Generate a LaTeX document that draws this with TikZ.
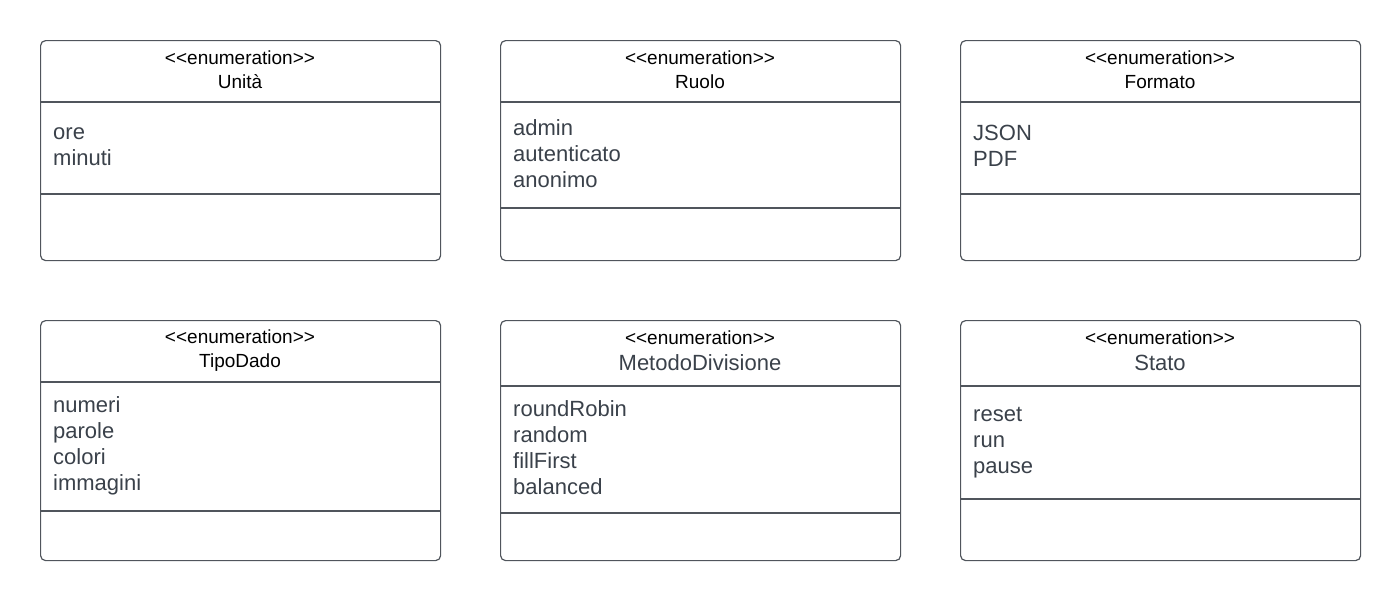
\documentclass[tikz,border=0pt]{standalone}
\usepackage{fontspec}
\setmainfont{Liberation Sans}
\definecolor{boxgray}{HTML}{50555C}
\definecolor{textgray}{HTML}{3A414A}

\begin{document}
\begin{tikzpicture}[x=1pt, y=-1pt,
    box/.style={draw=boxgray, line width=1.2pt, rounded corners=5pt, minimum width=400pt, anchor=north west, inner sep=0pt},
    sep/.style={draw=boxgray, line width=1.2pt},
    stereo/.style={font=\fontsize{19}{23}\selectfont, anchor=base, inner sep=0pt},
    clsname/.style={font=\fontsize{19}{23}\selectfont, anchor=base, inner sep=0pt},
    bigclsname/.style={font=\fontsize{22}{26}\selectfont, text=textgray, anchor=base, inner sep=0pt},
    attr/.style={font=\fontsize{22}{26}\selectfont, text=textgray, align=left, anchor=west, inner sep=0pt}]

    \useasboundingbox (0,0) rectangle (1400,600);

    % first row
    \node[box, minimum height=220pt] (unita) at (40,40) {};
    \draw[sep] ([yshift=-62pt]unita.north west) -- ([yshift=-62pt]unita.north east);
    \draw[sep] ([yshift=-154pt]unita.north west) -- ([yshift=-154pt]unita.north east);
    \node[stereo] (unitaSt) at (240,64) {<{}<enumeration>{}>};
    \node[clsname] (unitaName) at (240,88) {Unità};
    \node[attr] (unitaAttr) at (53,146.5) {ore\\minuti};

    \node[box, minimum height=220pt] (ruolo) at (500,40) {};
    \draw[sep] ([yshift=-62pt]ruolo.north west) -- ([yshift=-62pt]ruolo.north east);
    \draw[sep] ([yshift=-168pt]ruolo.north west) -- ([yshift=-168pt]ruolo.north east);
    \node[stereo] (ruoloSt) at (700,64) {<{}<enumeration>{}>};
    \node[clsname] (ruoloName) at (700,88) {Ruolo};
    \node[attr] (ruoloAttr) at (513,154) {admin\\autenticato\\anonimo};

    \node[box, minimum height=220pt] (formato) at (960,40) {};
    \draw[sep] ([yshift=-62pt]formato.north west) -- ([yshift=-62pt]formato.north east);
    \draw[sep] ([yshift=-154pt]formato.north west) -- ([yshift=-154pt]formato.north east);
    \node[stereo] (formatoSt) at (1160,64) {<{}<enumeration>{}>};
    \node[clsname] (formatoName) at (1160,88) {Formato};
    \node[attr] (formatoAttr) at (973,146) {JSON\\PDF};

    % second row
    \node[box, minimum height=240pt] (tipo) at (40,320) {};
    \draw[sep] ([yshift=-62pt]tipo.north west) -- ([yshift=-62pt]tipo.north east);
    \draw[sep] ([yshift=-191pt]tipo.north west) -- ([yshift=-191pt]tipo.north east);
    \node[stereo] (tipoSt) at (240,343) {<{}<enumeration>{}>};
    \node[clsname] (tipoName) at (240,367) {TipoDado};
    \node[attr] (tipoAttr) at (53,446) {numeri\\parole\\colori\\immagini};

    \node[box, minimum height=240pt] (metodo) at (500,320) {};
    \draw[sep] ([yshift=-66pt]metodo.north west) -- ([yshift=-66pt]metodo.north east);
    \draw[sep] ([yshift=-193pt]metodo.north west) -- ([yshift=-193pt]metodo.north east);
    \node[stereo] (metodoSt) at (700,344) {<{}<enumeration>{}>};
    \node[bigclsname] (metodoName) at (700,370) {MetodoDivisione};
    \node[attr] (metodoAttr) at (513,448) {roundRobin\\random\\fillFirst\\balanced};

    \node[box, minimum height=240pt] (stato) at (960,320) {};
    \draw[sep] ([yshift=-66pt]stato.north west) -- ([yshift=-66pt]stato.north east);
    \draw[sep] ([yshift=-179pt]stato.north west) -- ([yshift=-179pt]stato.north east);
    \node[stereo] (statoSt) at (1160,344) {<{}<enumeration>{}>};
    \node[bigclsname] (statoName) at (1160,370) {Stato};
    \node[attr] (statoAttr) at (973,443) {reset\\run\\pause};
\end{tikzpicture}
\end{document}
